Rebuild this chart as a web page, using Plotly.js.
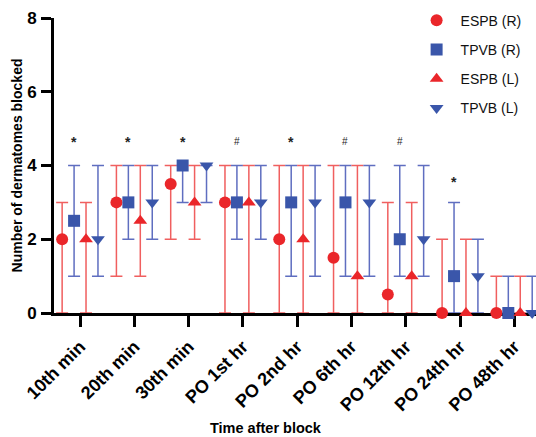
<!DOCTYPE html>
<html>
<head>
<meta charset="utf-8">
<script src="https://cdn.plot.ly/plotly-3.0.1.min.js"></script>
<style>html,body{margin:0;padding:0;background:#fff;}#chart{width:536px;height:437px;}</style>
</head>
<body>
<div id="chart"></div>
<script>
var categories = ["10th min", "20th min", "30th min", "PO 1st hr", "PO 2nd hr", "PO 6th hr", "PO 12th hr", "PO 24th hr", "PO 48th hr"];

var espbR = [2, 3, 3.5, 3, 2, 1.5, 0.5, 0, 0];
var espbRLow = [0, 1, 2, 0, 0, 0, 0, 0, 0];
var espbRHigh = [3, 4, 4, 4, 4, 4, 3, 2, 1];

var tpvbR = [2.5, 3, 4, 3, 3, 3, 2, 1, 0];
var tpvbRLow = [1, 2, 3, 2, 1, 1, 1, 0, 0];
var tpvbRHigh = [4, 4, 4, 4, 4, 4, 4, 3, 1];

var espbL = [2, 2.5, 3, 3, 2, 1, 1, 0, 0];
var espbLLow = [0, 1, 2, 0, 0, 0, 0, 0, 0];
var espbLHigh = [3, 4, 4, 4, 4, 4, 3, 2, 1];

var tpvbL = [2, 3, 4, 3, 3, 3, 2, 1, 0];
var tpvbLLow = [1, 2, 3, 2, 1, 1, 1, 0, 0];
var tpvbLHigh = [4, 4, 4, 4, 4, 4, 4, 2, 1];

var sigMarks = ["*", "*", "*", "#", "*", "#", "#", "*", ""];
var sigLevel = [4.64, 4.64, 4.64, 4.64, 4.64, 4.64, 4.64, 3.56, 0];

var RED = "rgb(234,38,42)", BLUE = "rgb(58,86,170)";
var REDBAR = "rgb(240,95,95)", BLUEBAR = "rgb(95,110,192)";
var FONT = "Arial, Liberation Sans, Helvetica, sans-serif";

function mk(name, vals, low, high, off, symbol, color, barColor) {
  return {
    type: "scatter", mode: "markers", name: name, legendgroup: name,
    x: vals.map(function (v, i) { return i + off; }),
    y: vals,
    cliponaxis: false,
    marker: {symbol: symbol, size: 12, color: color, line: {width: 0}},
    error_y: {
      type: "data", symmetric: false,
      array: vals.map(function (v, i) { return high[i] - v; }),
      arrayminus: vals.map(function (v, i) { return v - low[i]; }),
      color: barColor, thickness: 1.5, width: 6
    }
  };
}

var traces = [
  mk("ESPB (R)", espbR, espbRLow, espbRHigh, -0.33, "circle", RED, REDBAR),
  mk("TPVB (R)", tpvbR, tpvbRLow, tpvbRHigh, -0.11, "square", BLUE, BLUEBAR),
  mk("ESPB (L)", espbL, espbLLow, espbLHigh, 0.11, "triangle-up", RED, REDBAR),
  mk("TPVB (L)", tpvbL, tpvbLLow, tpvbLHigh, 0.33, "triangle-down", BLUE, BLUEBAR)
];

var annotations = [];
sigMarks.forEach(function (m, i) {
  if (!m) return;
  annotations.push({
    x: i - 0.11, y: sigLevel[i], xref: "x", yref: "y", text: m, showarrow: false,
    font: {family: FONT, size: m === "*" ? 14 : 10, color: "#222", weight: m === "*" ? "bold" : "normal"}
  });
});
annotations.push({
  x: 0.44, y: -(428 - 313) / 295, xref: "paper", yref: "paper", yanchor: "middle",
  text: "Time after block", showarrow: false,
  font: {family: FONT, size: 14.5, color: "#000", weight: "bold"}
});

var layout = {
  width: 536, height: 437,
  margin: {l: 54, r: 0, t: 18, b: 124},
  paper_bgcolor: "#fff", plot_bgcolor: "#fff",
  showlegend: true,
  legend: {
    x: 0.744, y: 1.045, xanchor: "left", yanchor: "top",
    font: {family: FONT, size: 14, color: "#111"},
    tracegroupgap: 8, itemwidth: 38, bgcolor: "rgba(0,0,0,0)"
  },
  xaxis: {
    range: [-0.48, 8.4],
    tickmode: "array",
    tickvals: categories.map(function (c, i) { return i; }),
    ticktext: categories,
    tickangle: -45,
    ticks: "outside", ticklen: 11, tickwidth: 3, tickcolor: "#000",
    showline: true, linecolor: "#000", linewidth: 3, layer: "below traces",
    showgrid: false, zeroline: false, ticklabelstandoff: 2,
    tickfont: {family: FONT, size: 18, color: "#000", weight: "bold"}
  },
  yaxis: {
    range: [0, 8],
    tickvals: [0, 2, 4, 6, 8],
    ticks: "outside", ticklen: 10, tickwidth: 3, tickcolor: "#000",
    showline: true, linecolor: "#000", linewidth: 3, layer: "below traces",
    showgrid: false, zeroline: false, ticklabelstandoff: 1,
    tickfont: {family: FONT, size: 17, color: "#000", weight: "bold"},
    title: {text: "Number of dermatomes blocked", font: {family: FONT, size: 14, color: "#000", weight: "bold"}, standoff: 2}
  },
  annotations: annotations
};

Plotly.newPlot("chart", traces, layout, {displayModeBar: false, staticPlot: true});
</script>
</body>
</html>
